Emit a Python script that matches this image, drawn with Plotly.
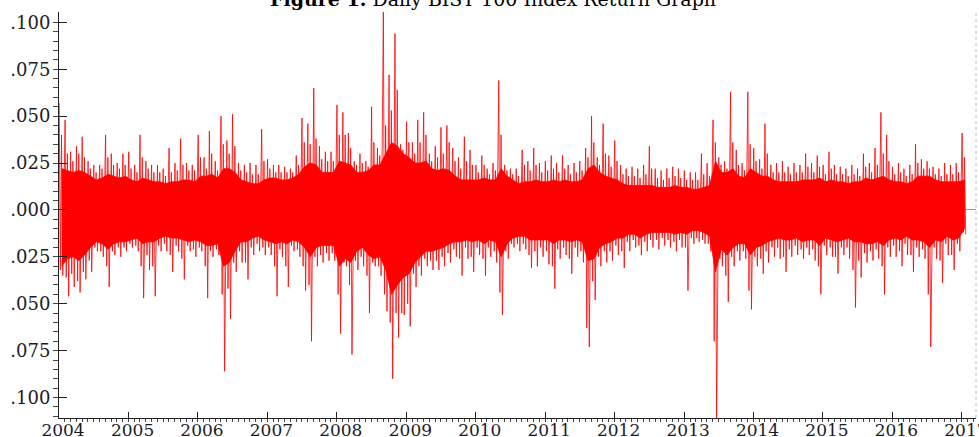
import plotly.graph_objects as go
import pandas as pd

# ---------------- data (monthly, Jan 2004 - Jan 2017) ----------------
first_month = "2004-01-01"

# largest daily gain in each month
up_peak = [
    0.057, 0.048, 0.031, 0.034, 0.039, 0.026, 0.024, 0.024, 0.040, 0.030, 0.025, 0.030,   # 2004
    0.031, 0.024, 0.040, 0.026, 0.024, 0.024, 0.022, 0.033, 0.025, 0.038, 0.025, 0.024,   # 2005
    0.040, 0.028, 0.042, 0.026, 0.050, 0.037, 0.051, 0.025, 0.024, 0.025, 0.024, 0.043,   # 2006
    0.027, 0.024, 0.024, 0.023, 0.022, 0.029, 0.049, 0.046, 0.065, 0.034, 0.031, 0.031,   # 2007
    0.056, 0.052, 0.041, 0.026, 0.030, 0.026, 0.055, 0.033, 0.106, 0.072, 0.094, 0.035,   # 2008
    0.047, 0.036, 0.048, 0.052, 0.030, 0.034, 0.044, 0.045, 0.033, 0.028, 0.039, 0.032,   # 2009
    0.024, 0.029, 0.022, 0.025, 0.069, 0.024, 0.022, 0.022, 0.032, 0.026, 0.033, 0.025,   # 2010
    0.026, 0.029, 0.025, 0.029, 0.024, 0.025, 0.026, 0.033, 0.050, 0.028, 0.046, 0.029,   # 2011
    0.037, 0.024, 0.022, 0.023, 0.022, 0.024, 0.034, 0.022, 0.021, 0.022, 0.023, 0.022,   # 2012
    0.021, 0.020, 0.020, 0.030, 0.025, 0.048, 0.028, 0.026, 0.063, 0.032, 0.025, 0.063,   # 2013
    0.033, 0.027, 0.046, 0.024, 0.025, 0.026, 0.023, 0.025, 0.024, 0.030, 0.025, 0.029,   # 2014
    0.024, 0.031, 0.024, 0.023, 0.022, 0.024, 0.022, 0.030, 0.025, 0.033, 0.052, 0.040,   # 2015
    0.023, 0.025, 0.022, 0.024, 0.035, 0.027, 0.026, 0.023, 0.022, 0.025, 0.024, 0.025,   # 2016
    0.041,                                                                               # 2017
]

# largest daily loss in each month
down_peak = [
    -0.035, -0.046, -0.041, -0.044, -0.037, -0.033, -0.022, -0.025, -0.041, -0.024, -0.025, -0.022,
    -0.020, -0.022, -0.047, -0.032, -0.046, -0.022, -0.022, -0.033, -0.022, -0.037, -0.022, -0.025,
    -0.022, -0.047, -0.025, -0.024, -0.086, -0.058, -0.033, -0.028, -0.037, -0.024, -0.022, -0.024,
    -0.024, -0.046, -0.025, -0.041, -0.022, -0.025, -0.043, -0.070, -0.030, -0.028, -0.027, -0.027,
    -0.066, -0.030, -0.077, -0.032, -0.030, -0.055, -0.030, -0.035, -0.054, -0.090, -0.068, -0.056,
    -0.062, -0.041, -0.035, -0.030, -0.032, -0.032, -0.030, -0.028, -0.025, -0.035, -0.026, -0.033,
    -0.024, -0.035, -0.025, -0.028, -0.056, -0.026, -0.020, -0.022, -0.021, -0.031, -0.030, -0.025,
    -0.029, -0.042, -0.026, -0.024, -0.034, -0.025, -0.028, -0.073, -0.048, -0.030, -0.028, -0.027,
    -0.024, -0.031, -0.022, -0.020, -0.024, -0.022, -0.020, -0.021, -0.019, -0.020, -0.022, -0.020,
    -0.043, -0.018, -0.017, -0.018, -0.022, -0.112, -0.030, -0.049, -0.030, -0.027, -0.026, -0.053,
    -0.030, -0.034, -0.028, -0.025, -0.026, -0.033, -0.025, -0.024, -0.026, -0.024, -0.027, -0.045,
    -0.024, -0.025, -0.034, -0.024, -0.026, -0.052, -0.036, -0.028, -0.027, -0.026, -0.045, -0.025,
    -0.025, -0.030, -0.024, -0.033, -0.025, -0.026, -0.073, -0.026, -0.039, -0.024, -0.032, -0.022,
    -0.013,
]

# second largest gain / loss in each month
up_second = [
    0.040, 0.030, 0.026, 0.030, 0.028, 0.022, 0.020, 0.022, 0.028, 0.024, 0.022, 0.024,
    0.022, 0.020, 0.028, 0.022, 0.020, 0.020, 0.018, 0.020, 0.021, 0.024, 0.021, 0.021,
    0.028, 0.022, 0.030, 0.021, 0.035, 0.030, 0.034, 0.021, 0.020, 0.019, 0.019, 0.026,
    0.022, 0.020, 0.020, 0.020, 0.020, 0.024, 0.036, 0.035, 0.038, 0.027, 0.026, 0.026,
    0.040, 0.040, 0.033, 0.024, 0.025, 0.023, 0.036, 0.029, 0.045, 0.053, 0.064, 0.032,
    0.036, 0.030, 0.036, 0.040, 0.026, 0.028, 0.030, 0.036, 0.026, 0.022, 0.026, 0.024,
    0.020, 0.024, 0.019, 0.021, 0.040, 0.021, 0.019, 0.018, 0.024, 0.021, 0.024, 0.020,
    0.021, 0.022, 0.020, 0.022, 0.019, 0.020, 0.021, 0.028, 0.036, 0.024, 0.030, 0.023,
    0.026, 0.019, 0.018, 0.018, 0.017, 0.019, 0.022, 0.017, 0.016, 0.017, 0.018, 0.017,
    0.016, 0.016, 0.016, 0.019, 0.018, 0.036, 0.024, 0.022, 0.036, 0.024, 0.021, 0.035,
    0.026, 0.022, 0.030, 0.020, 0.020, 0.020, 0.019, 0.020, 0.020, 0.023, 0.020, 0.023,
    0.019, 0.022, 0.019, 0.019, 0.018, 0.019, 0.018, 0.023, 0.020, 0.024, 0.030, 0.026,
    0.019, 0.020, 0.018, 0.019, 0.025, 0.022, 0.022, 0.019, 0.018, 0.019, 0.019, 0.020,
    0.028,
]

down_second = [
    -0.032, -0.036, -0.034, -0.038, -0.033, -0.027, -0.020, -0.022, -0.030, -0.022, -0.020, -0.020,
    -0.018, -0.019, -0.030, -0.024, -0.030, -0.019, -0.018, -0.024, -0.019, -0.026, -0.019, -0.021,
    -0.020, -0.030, -0.022, -0.021, -0.045, -0.042, -0.028, -0.022, -0.028, -0.020, -0.018, -0.020,
    -0.020, -0.030, -0.021, -0.030, -0.019, -0.021, -0.030, -0.040, -0.025, -0.024, -0.023, -0.023,
    -0.045, -0.028, -0.040, -0.027, -0.025, -0.035, -0.028, -0.030, -0.045, -0.060, -0.055, -0.055,
    -0.050, -0.034, -0.030, -0.026, -0.027, -0.027, -0.025, -0.023, -0.021, -0.026, -0.020, -0.025,
    -0.020, -0.026, -0.020, -0.022, -0.044, -0.022, -0.018, -0.018, -0.018, -0.024, -0.022, -0.020,
    -0.022, -0.030, -0.021, -0.020, -0.026, -0.020, -0.022, -0.063, -0.038, -0.025, -0.022, -0.022,
    -0.019, -0.022, -0.017, -0.016, -0.019, -0.017, -0.016, -0.016, -0.015, -0.016, -0.017, -0.016,
    -0.020, -0.015, -0.015, -0.016, -0.018, -0.070, -0.026, -0.035, -0.025, -0.022, -0.022, -0.043,
    -0.025, -0.026, -0.022, -0.020, -0.020, -0.025, -0.021, -0.019, -0.021, -0.020, -0.021, -0.030,
    -0.019, -0.020, -0.025, -0.020, -0.020, -0.032, -0.027, -0.023, -0.022, -0.021, -0.030, -0.020,
    -0.019, -0.022, -0.018, -0.024, -0.020, -0.021, -0.045, -0.020, -0.027, -0.018, -0.024, -0.018,
    -0.012,
]

# dense core band of the daily returns in each month
core_hi = [
    0.022, 0.021, 0.020, 0.021, 0.020, 0.018, 0.016, 0.017, 0.019, 0.018, 0.017, 0.018,
    0.016, 0.015, 0.017, 0.016, 0.015, 0.015, 0.014, 0.015, 0.015, 0.016, 0.016, 0.015,
    0.018, 0.018, 0.019, 0.017, 0.022, 0.022, 0.020, 0.016, 0.015, 0.014, 0.014, 0.016,
    0.017, 0.017, 0.016, 0.016, 0.017, 0.019, 0.023, 0.025, 0.024, 0.020, 0.020, 0.020,
    0.026, 0.025, 0.024, 0.020, 0.020, 0.021, 0.024, 0.024, 0.030, 0.036, 0.034, 0.030,
    0.028, 0.025, 0.025, 0.026, 0.022, 0.021, 0.022, 0.021, 0.018, 0.016, 0.016, 0.016,
    0.016, 0.017, 0.016, 0.016, 0.022, 0.018, 0.016, 0.014, 0.015, 0.015, 0.016, 0.015,
    0.015, 0.016, 0.015, 0.016, 0.015, 0.015, 0.016, 0.022, 0.024, 0.020, 0.018, 0.017,
    0.016, 0.014, 0.013, 0.013, 0.013, 0.013, 0.013, 0.012, 0.012, 0.012, 0.013, 0.012,
    0.012, 0.011, 0.011, 0.012, 0.013, 0.026, 0.020, 0.020, 0.022, 0.018, 0.017, 0.022,
    0.020, 0.018, 0.018, 0.016, 0.015, 0.015, 0.015, 0.015, 0.016, 0.016, 0.016, 0.017,
    0.015, 0.016, 0.015, 0.015, 0.014, 0.015, 0.015, 0.017, 0.016, 0.017, 0.018, 0.016,
    0.015, 0.015, 0.014, 0.015, 0.018, 0.018, 0.018, 0.016, 0.015, 0.015, 0.015, 0.015,
    0.016,
]

core_lo = [
    -0.030, -0.026, -0.025, -0.027, -0.024, -0.020, -0.017, -0.018, -0.021, -0.018, -0.017, -0.017,
    -0.016, -0.015, -0.018, -0.017, -0.017, -0.015, -0.014, -0.015, -0.015, -0.016, -0.017, -0.016,
    -0.017, -0.019, -0.019, -0.018, -0.030, -0.028, -0.022, -0.017, -0.017, -0.015, -0.014, -0.016,
    -0.017, -0.018, -0.017, -0.018, -0.016, -0.017, -0.020, -0.025, -0.020, -0.019, -0.019, -0.019,
    -0.030, -0.026, -0.028, -0.022, -0.020, -0.024, -0.026, -0.025, -0.032, -0.045, -0.040, -0.036,
    -0.034, -0.028, -0.025, -0.022, -0.022, -0.021, -0.020, -0.018, -0.017, -0.017, -0.016, -0.017,
    -0.016, -0.018, -0.016, -0.017, -0.025, -0.018, -0.015, -0.014, -0.014, -0.016, -0.016, -0.016,
    -0.016, -0.018, -0.016, -0.016, -0.017, -0.016, -0.017, -0.027, -0.026, -0.020, -0.018, -0.017,
    -0.015, -0.015, -0.013, -0.013, -0.015, -0.013, -0.012, -0.012, -0.012, -0.012, -0.013, -0.012,
    -0.013, -0.011, -0.011, -0.012, -0.014, -0.033, -0.021, -0.024, -0.020, -0.018, -0.018, -0.024,
    -0.020, -0.019, -0.017, -0.016, -0.015, -0.016, -0.016, -0.015, -0.017, -0.016, -0.016, -0.019,
    -0.015, -0.016, -0.017, -0.016, -0.015, -0.017, -0.017, -0.018, -0.018, -0.017, -0.019, -0.016,
    -0.015, -0.016, -0.014, -0.016, -0.016, -0.017, -0.020, -0.016, -0.017, -0.014, -0.016, -0.015,
    -0.010,
]

y_tick_values = [0.100, 0.075, 0.050, 0.025, 0.000, -0.025, -0.050, -0.075, -0.100]
y_tick_labels = [".100", ".075", ".050", ".025", ".000", ".025", ".050", ".075", ".100"]

title_text = "<b>Figure 1.</b> Daily BIST 100 Index Return Graph"

# ---------------- build series ----------------
months = pd.date_range(first_month, periods=len(up_peak), freq="MS")

xs, ys = [], []
for m, u1, d2, u2, d1 in zip(months, up_peak, down_second, up_second, down_peak):
    xs += [m + pd.Timedelta(days=1), m + pd.Timedelta(days=7),
           m + pd.Timedelta(days=13), m + pd.Timedelta(days=20)]
    ys += [u1, d2, u2, d1]

mid = [m + pd.Timedelta(days=14) for m in months]
band_x = mid + mid[::-1]
band_y = core_hi + core_lo[::-1]

RED = "#ff0000"
SERIF = "DejaVu Serif"
TXT = "#1c1c28"

fig = go.Figure()
fig.add_trace(go.Scatter(x=band_x, y=band_y, mode="lines", fill="toself",
                         fillcolor=RED, line=dict(color=RED, width=0.8),
                         hoverinfo="skip", showlegend=False))
fig.add_trace(go.Scatter(x=xs, y=ys, mode="lines",
                         line=dict(color=RED, width=0.8), showlegend=False))

fig.update_layout(
    width=979, height=437,
    margin=dict(l=59, r=3, t=12, b=19),
    paper_bgcolor="white", plot_bgcolor="white",
    font=dict(family=SERIF, size=18, color=TXT),
    showlegend=False,
)

fig.update_xaxes(
    type="date", automargin=False,
    range=["2004-01-01", "2017-03-16"],
    showgrid=False, zeroline=False,
    showline=True, linecolor="#222", linewidth=1,
    tick0="2004-01-01", dtick="M12", tickformat="%Y",
    ticks="inside", ticklen=6, tickcolor="#222",
    ticklabelshift=4, ticklabelstandoff=-3,
    ticklabeloverflow="allow",
    minor=dict(dtick="M1", ticks="outside", ticklen=3, tickcolor="#444"),
    tickfont=dict(family=SERIF, size=17, color=TXT),
)

fig.update_yaxes(
    automargin=False,
    range=[-0.1109, 0.1055],
    showgrid=False,
    zeroline=True, zerolinecolor="#9a9a9a", zerolinewidth=1,
    showline=True, linecolor="#222", linewidth=1,
    tickmode="array", tickvals=y_tick_values, ticktext=y_tick_labels,
    ticks="inside", ticklen=8, tickcolor="#222",
    ticklabelstandoff=4,
    minor=dict(dtick=0.005, tick0=0, ticks="outside", ticklen=5, tickcolor="#444"),
    tickfont=dict(family=SERIF, size=18, color=TXT),
)

# dotted right border
fig.add_shape(type="line", xref="paper", yref="paper", x0=1, x1=1, y0=0, y1=1,
              line=dict(color="#bbbbbb", width=1, dash="dot"))

fig.add_annotation(text=title_text, xref="paper", yref="paper",
                   x=(493 - 59) / 917, y=1, xanchor="center", yanchor="bottom",
                   yshift=0, showarrow=False,
                   font=dict(family=SERIF, size=19, color="black"))

fig.write_html(
    "out.html",
    config={"displayModeBar": False},
    post_script="document.body.style.margin='0';document.body.style.padding='0';",
)
